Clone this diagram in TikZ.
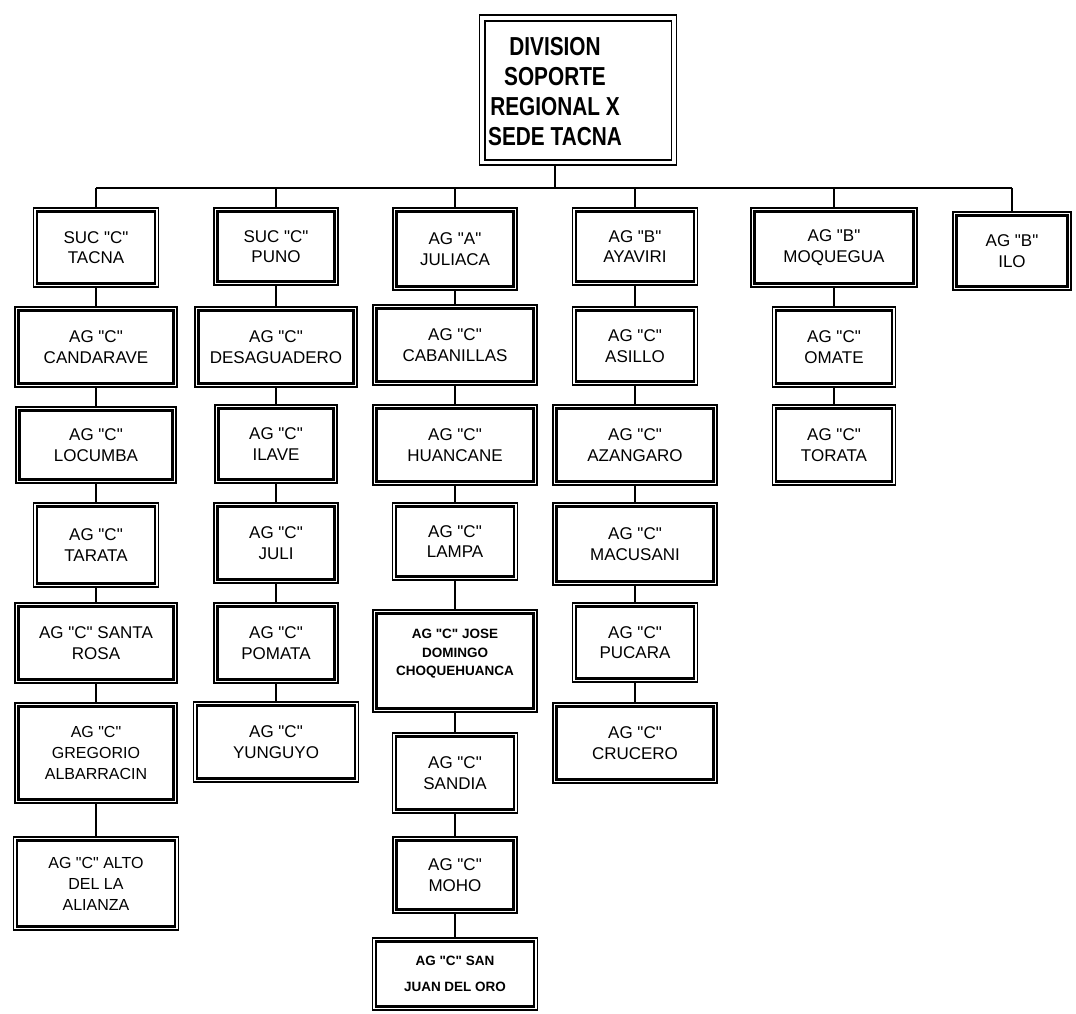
\documentclass[tikz,border=0pt]{standalone}
\usepackage{fontspec}
\setmainfont{Liberation Sans}[Ligatures=TeXOff]
\newfontfamily\titlefont{Liberation Sans}[FakeStretch=0.8,Ligatures=TeXOff]
\tikzset{
  box/.style={draw, line width=1.1pt, inner sep=0pt, align=center,
    font=\fontsize{17}{20.5}\selectfont},
  smallbox/.style={box, font=\bfseries\fontsize{13.5}{18.5}\selectfont},
  midbox/.style={box, font=\fontsize{16}{21}\selectfont},
  innerline/.style={line width=2.4pt},
  conn/.style={line width=1.4pt},
  topbox/.style={draw, line width=1.8pt, inner sep=0pt},
  toptxt/.style={align=center, inner sep=0pt, font=\titlefont\bfseries\fontsize{26}{30}\selectfont},
}
\begin{document}
\begin{tikzpicture}[x=1pt,y=-1pt]
\useasboundingbox (0,0) rectangle (1076,1013);

% top
\node[topbox, minimum width=197, minimum height=150] (top) at (578,90) {};
\node[toptxt] (toptitle) at (555,92) {DIVISION\\SOPORTE\\REGIONAL X\\SEDE TACNA};
\draw[line width=1.8pt] ([xshift=6pt,yshift=-7pt]top.north west) rectangle ([xshift=-6pt,yshift=6pt]top.south east);

% column 1
\node[box, minimum width=125, minimum height=79] (tacna) at (96,247.5) {SUC "C"\\TACNA};
\node[box, minimum width=162, minimum height=80] (candarave) at (96,347) {AG "C"\\CANDARAVE};
\node[box, minimum width=160, minimum height=76] (locumba) at (96,445) {AG "C"\\LOCUMBA};
\node[box, minimum width=125, minimum height=84] (tarata) at (96,545) {AG "C"\\TARATA};
\node[box, minimum width=162, minimum height=80] (santarosa) at (96,643) {AG "C" SANTA\\ROSA};
\node[midbox, minimum width=162, minimum height=100] (gregorio) at (96,753) {AG "C"\\GREGORIO\\ALBARRACIN};
\node[midbox, minimum width=165, minimum height=93] (alto) at (96,883.5) {AG "C" ALTO\\DEL LA\\ALIANZA};

% column 2
\node[box, minimum width=124, minimum height=77] (puno) at (276,246.5) {SUC "C"\\PUNO};
\node[box, minimum width=162, minimum height=80] (desaguadero) at (276,347) {AG "C"\\DESAGUADERO};
\node[box, minimum width=122, minimum height=78] (ilave) at (276,444) {AG "C"\\ILAVE};
\node[box, minimum width=124, minimum height=80] (juli) at (276,543) {AG "C"\\JULI};
\node[box, minimum width=124, minimum height=80] (pomata) at (276,643) {AG "C"\\POMATA};
\node[box, minimum width=165, minimum height=80] (yunguyo) at (276,742) {AG "C"\\YUNGUYO};

% column 3
\node[box, minimum width=124, minimum height=82] (juliaca) at (455,249) {AG "A"\\JULIACA};
\node[box, minimum width=164, minimum height=80] (cabanillas) at (455,345) {AG "C"\\CABANILLAS};
\node[box, minimum width=164, minimum height=80] (huancane) at (455,445) {AG "C"\\HUANCANE};
\node[box, minimum width=125, minimum height=77] (lampa) at (455,541.5) {AG "C"\\LAMPA};
\node[smallbox, minimum width=164, minimum height=102] (jose) at (455,661) {AG "C" JOSE\\DOMINGO\\CHOQUEHUANCA\\[-2pt]};
\node[box, minimum width=125, minimum height=80] (sandia) at (455,773) {AG "C"\\SANDIA};
\node[box, minimum width=124, minimum height=76] (moho) at (455,875) {AG "C"\\MOHO};
\node[smallbox, minimum width=165, minimum height=72, font=\bfseries\fontsize{13.5}{26}\selectfont] (sanjuan) at (455,974) {AG "C" SAN\\JUAN DEL ORO};

% column 4
\node[box, minimum width=125, minimum height=77] (ayaviri) at (635,246.5) {AG "B"\\AYAVIRI};
\node[box, minimum width=125, minimum height=78] (asillo) at (635,346) {AG "C"\\ASILLO};
\node[box, minimum width=164, minimum height=80] (azangaro) at (635,445) {AG "C"\\AZANGARO};
\node[box, minimum width=164, minimum height=82] (macusani) at (635,544) {AG "C"\\MACUSANI};
\node[box, minimum width=125, minimum height=79] (pucara) at (635,642.5) {AG "C"\\PUCARA};
\node[box, minimum width=164, minimum height=80] (crucero) at (635,743) {AG "C"\\CRUCERO};

% column 5
\node[box, minimum width=166, minimum height=79] (moquegua) at (834,247.5) {AG "B"\\MOQUEGUA};
\node[box, minimum width=123, minimum height=80] (omate) at (834,347) {AG "C"\\OMATE};
\node[box, minimum width=123, minimum height=80] (torata) at (834,445) {AG "C"\\TORATA};

% column 6
\node[box, minimum width=118, minimum height=78] (ilo) at (1012,251) {AG "B"\\ILO};

% inner thick lines of the double borders
\foreach \n in {tacna,candarave,locumba,tarata,santarosa,gregorio,alto,
  puno,desaguadero,ilave,juli,pomata,yunguyo,
  juliaca,cabanillas,huancane,lampa,jose,sandia,moho,sanjuan,
  ayaviri,asillo,azangaro,macusani,pucara,crucero,
  moquegua,omate,torata,ilo}
  \draw[innerline] ([xshift=4pt,yshift=-4pt]\n.north west) rectangle ([xshift=-4pt,yshift=4pt]\n.south east);

% bus
\coordinate (bus) at (555,188);
\draw[conn] (top.south -| toptitle) -- (bus);
\draw[conn] (tacna.north |- bus) -- (ilo.north |- bus);
\foreach \n in {tacna,puno,juliaca,ayaviri,moquegua,ilo}
  \draw[conn] (\n.north |- bus) -- (\n.north);

% chains
\foreach \a/\b in {tacna/candarave,candarave/locumba,locumba/tarata,tarata/santarosa,santarosa/gregorio,gregorio/alto,
  puno/desaguadero,desaguadero/ilave,ilave/juli,juli/pomata,pomata/yunguyo,
  juliaca/cabanillas,cabanillas/huancane,huancane/lampa,lampa/jose,jose/sandia,sandia/moho,moho/sanjuan,
  ayaviri/asillo,asillo/azangaro,azangaro/macusani,macusani/pucara,pucara/crucero,
  moquegua/omate,omate/torata}
  \draw[conn] (\a.south) -- (\b.north);
\end{tikzpicture}
\end{document}
